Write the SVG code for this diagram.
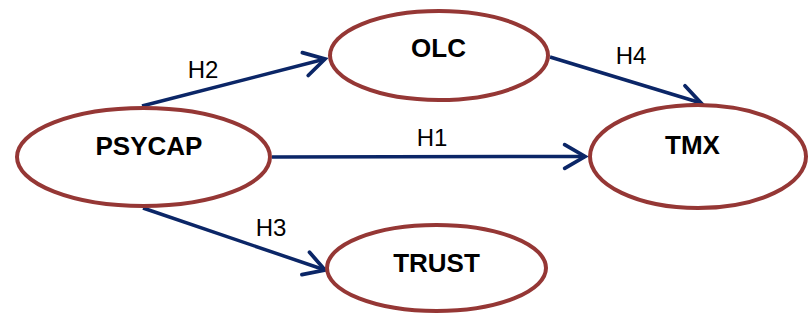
<svg xmlns="http://www.w3.org/2000/svg" width="809" height="321" viewBox="0 0 809 321">
<style>
.node{fill:#ffffff;stroke:#953735;stroke-width:4}
.lbl{font-family:"Liberation Sans",Arial,sans-serif;font-weight:bold;font-size:26px;fill:#000;text-anchor:middle}
.hl{font-family:"Liberation Sans",Arial,sans-serif;font-size:24px;fill:#000;text-anchor:middle}
.edge{stroke:#0b2667;stroke-width:3.5;fill:none}
</style>
<defs>
<marker id="arr" markerUnits="userSpaceOnUse" markerWidth="30" markerHeight="30" viewBox="-22 -14 26 28" refX="0" refY="0" orient="auto">
<path d="M-19,-11 L0,0 L-19,11" fill="none" stroke="#0b2667" stroke-width="3.5" stroke-linecap="round" stroke-linejoin="miter"/>
</marker>
</defs>
<rect width="809" height="321" fill="#ffffff"/>
<g id="connectors">
<line class="edge" x1="142" y1="106" x2="325" y2="59" marker-end="url(#arr)"/>
<line class="edge" x1="272" y1="157" x2="585" y2="156.5" marker-end="url(#arr)"/>
<line class="edge" x1="143" y1="208" x2="325" y2="270" marker-end="url(#arr)"/>
<line class="edge" x1="550" y1="57" x2="701" y2="103" marker-end="url(#arr)"/>
<text class="hl" x="203" y="78">H2</text>
<text class="hl" x="432" y="146">H1</text>
<text class="hl" x="271" y="236">H3</text>
<text class="hl" x="631" y="64">H4</text>
</g>
<g id="psycap">
<ellipse class="node" cx="143.5" cy="157" rx="126.5" ry="49"/>
<text class="lbl" x="149" y="155">PSYCAP</text>
</g>
<g id="olc">
<ellipse class="node" cx="439" cy="55.5" rx="109" ry="44.5"/>
<text class="lbl" x="438.5" y="57">OLC</text>
</g>
<g id="tmx">
<ellipse class="node" cx="698" cy="156.5" rx="108" ry="51.5"/>
<text class="lbl" x="692.5" y="154">TMX</text>
</g>
<g id="trust">
<ellipse class="node" cx="436.5" cy="268" rx="109.5" ry="43"/>
<text class="lbl" x="436.5" y="272">TRUST</text>
</g>
</svg>
